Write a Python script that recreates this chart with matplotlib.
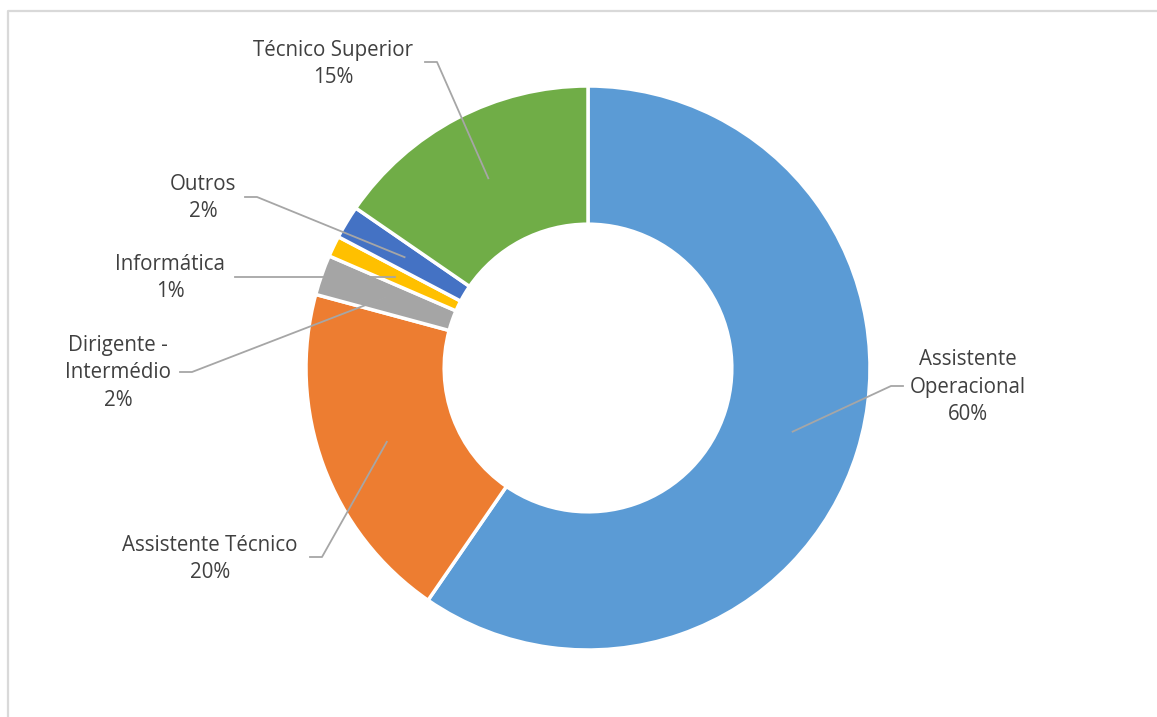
import numpy as np
import matplotlib.pyplot as plt

# categories in clockwise order starting at 12 o'clock
categories = ["Assistente\nOperacional", "Assistente Técnico", "Dirigente -\nIntermédio",
              "Informática", "Outros", "Técnico Superior"]
shares = [59.6, 19.6, 2.3, 1.2, 1.9, 15.4]
colors = ["#5B9BD5", "#ED7D31", "#A5A5A5", "#FFC000", "#4472C4", "#70AD47"]

# label placement (pixel coords, y down) and where the leader leaves the label
label_pos = [(968, 387), (210, 559), (118, 373), (170, 278), (203, 198), (333, 64)]
leader_start = [(903, 386), (310, 557), (180, 372), (235, 277), (245, 197), (425, 62)]

W, H = 1157, 717
CX, CY, R = 588, 368, 282
TEXT = "#404040"
LINE = "#A6A6A6"


def flip(p):
    return p[0], H - p[1]


fig = plt.figure(figsize=(W / 100, H / 100), dpi=100)
ax = fig.add_axes([0, 0, 1, 1])
wedges, _ = ax.pie(shares, colors=colors, startangle=90, counterclock=False,
                   radius=R, center=(CX, H - CY),
                   wedgeprops=dict(width=R * 0.49, edgecolor="white", linewidth=2.5))
ax.set_xlim(0, W)
ax.set_ylim(0, H)
ax.set_aspect("equal")
ax.axis("off")

# light chart-area border (cut at right/bottom like the screenshot)
ax.plot([8, 8, W + 5], [-5, H - 11, H - 11], color="#D9D9D9", lw=1.6, clip_on=False)

total = sum(shares)
for i, (lab, v) in enumerate(zip(categories, shares)):
    w = wedges[i]
    mid = np.deg2rad((w.theta1 + w.theta2) / 2)
    px, py = CX + 0.76 * R * np.cos(mid), (H - CY) + 0.76 * R * np.sin(mid)
    sx, sy = flip(leader_start[i])
    # short horizontal tick then diagonal to the wedge
    hx = sx + (12 if px > sx else -12)
    if abs(py - sy) < 6:
        ax.plot([sx, px], [sy, sy], color=LINE, lw=1.3)
    else:
        ax.plot([sx, hx, px], [sy, sy, py], color=LINE, lw=1.3)
    tx, ty = flip(label_pos[i])
    ax.text(tx, ty, f"{lab}\n{round(v / total * 100):.0f}%", ha="center", va="center",
            fontsize=14.8, color=TEXT, family=["Open Sans", "DejaVu Sans"], linespacing=1.38)

fig.savefig("out.png", dpi=100)
